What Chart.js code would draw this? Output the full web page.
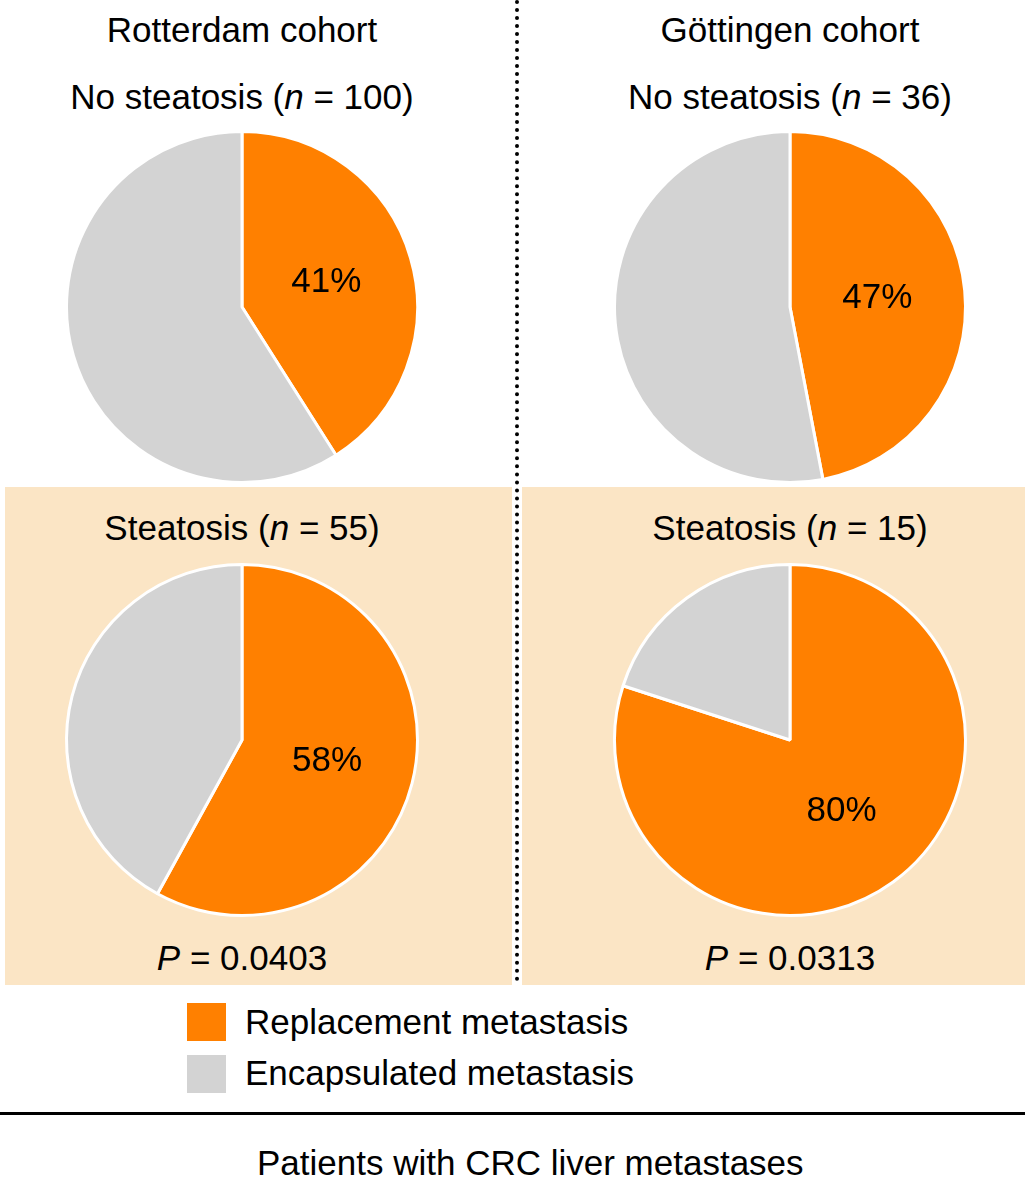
<!DOCTYPE html>
<html>
<head>
<meta charset="utf-8">
<script src="https://cdn.jsdelivr.net/npm/chart.js@4"></script>
<style>
  body { margin: 0; width: 1034px; height: 1200px; position: relative; background: #fff;
         font-family: "Liberation Sans", Arial, sans-serif; color: #000; }
  .t { position: absolute; font-size: 35px; text-align: center; width: 520px; white-space: nowrap; }
  .bg { position: absolute; background: #fbe5c5; top: 487px; height: 498px; }
  canvas { position: absolute; }
</style>
</head>
<body>
<div class="bg" style="left:5px;width:507px"></div>
<div class="bg" style="left:522px;width:503px"></div>
<div style="position:absolute;left:515px;top:0;height:982px;border-left:4px dotted #000"></div>
<div style="position:absolute;left:0;top:1112px;width:1025px;border-top:3px solid #000"></div>

<div class="t" style="left:-18px;top:10px">Rotterdam cohort</div>
<div class="t" style="left:530px;top:10px">Göttingen cohort</div>
<div class="t" style="left:-18px;top:77px">No steatosis (<i>n</i> = 100)</div>
<div class="t" style="left:530px;top:77px">No steatosis (<i>n</i> = 36)</div>
<div class="t" style="left:-18px;top:508px">Steatosis (<i>n</i> = 55)</div>
<div class="t" style="left:530px;top:508px">Steatosis (<i>n</i> = 15)</div>
<div class="t" style="left:-18px;top:938px"><i>P</i> = 0.0403</div>
<div class="t" style="left:530px;top:938px"><i>P</i> = 0.0313</div>

<div style="position:absolute;left:187px;top:1003px;width:39px;height:38px;background:#ff8000"></div>
<div style="position:absolute;left:187px;top:1055px;width:39px;height:38px;background:#d3d3d3"></div>
<div class="t" style="left:245px;top:1002px;text-align:left">Replacement metastasis</div>
<div class="t" style="left:245px;top:1053px;text-align:left">Encapsulated metastasis</div>
<div class="t" style="left:257px;top:1143px">Patients with CRC liver metastases</div>

<canvas id="c0" width="360" height="360" style="left:62px;top:127px"></canvas>
<canvas id="c1" width="360" height="360" style="left:610px;top:127px"></canvas>
<canvas id="c2" width="360" height="360" style="left:62px;top:560px"></canvas>
<canvas id="c3" width="360" height="360" style="left:610px;top:560px"></canvas>

<script>
// Anteil pro Gruppe (%)
const groups = ["Rotterdam ohne Steatose", "Göttingen ohne Steatose", "Rotterdam Steatose", "Göttingen Steatose"];
const replacement = [41, 47, 58, 80];
const encapsulated = [59, 53, 42, 20];
const categories = ["Replacement metastasis", "Encapsulated metastasis"];

// Prozentwert in die orange Scheibe schreiben
const labelPlugin = {
    id: 'pctLabel',
    afterDatasetsDraw(chart) {
        const ctx = chart.ctx;
        const arc = chart.getDatasetMeta(0).data[0];
        const pos = arc.tooltipPosition();
        ctx.save();
        ctx.font = '35px "Liberation Sans", Arial, sans-serif';
        ctx.fillStyle = '#000';
        ctx.textAlign = 'center';
        ctx.textBaseline = 'middle';
        ctx.fillText(chart.data.datasets[0].data[0] + '%', pos.x, pos.y);
        ctx.restore();
    }
};

groups.forEach((g, i) => {
    new Chart(document.getElementById('c' + i), {
        type: 'pie',
        data: {
            labels: categories,
            datasets: [{
                data: [replacement[i], encapsulated[i]],
                backgroundColor: ['#ff8000', '#d3d3d3'],
                borderColor: '#fff',
                borderWidth: 3
            }]
        },
        options: {
            responsive: false,
            animation: false,
            layout: { padding: 3 },
            plugins: { legend: { display: false }, tooltip: { enabled: false } }
        },
        plugins: [labelPlugin]
    });
});
</script>
</body>
</html>
